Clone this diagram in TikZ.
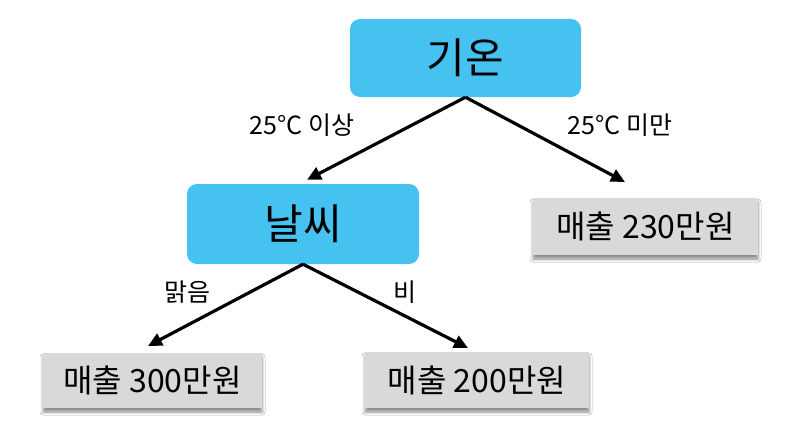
\documentclass[tikz,border=0pt]{standalone}
\usepackage{fontspec}
\setmainfont{Noto Sans CJK KR}
\usepackage{xcolor}
\usetikzlibrary{arrows.meta, calc, shadows.blur}
\definecolor{skyblue}{RGB}{69,194,240}
\definecolor{leafgray}{RGB}{217,217,217}

\begin{document}
\begin{tikzpicture}[x=1pt, y=-1pt,
	    >=Latex,
	    split/.style={fill=skyblue, rounded corners=10pt, inner sep=0pt,
	      font=\fontsize{42}{44}\selectfont},
	    leaf/.style={fill=leafgray, inner sep=0pt,
	      font=\fontsize{32}{34}\selectfont,
	      blur shadow={shadow xshift=0pt, shadow yshift=-4pt,
	        shadow blur radius=3pt, shadow opacity=45}},
	    edge/.style={-{Triangle[length=14pt, width=13pt]}, line width=3.2pt},
	    cond/.style={font=\fontsize{25}{27}\selectfont}
	  ]
	  \useasboundingbox[fill=white] (0,0) rectangle (810,444);

	  % decision nodes
	  \node[split, minimum width=231pt, minimum height=78pt] (temp) at (465.5,58) {기온};
	  \node[split, minimum width=232pt, minimum height=80pt] (wthr) at (303,224) {날씨};

	  % leaves
	  \node[leaf, minimum width=225pt, minimum height=57pt] (s230) at (645.5,226.5) {매출 230만원};
	  \node[leaf, minimum width=219pt, minimum height=55pt] (s300) at (152.5,380.5) {매출 300만원};
	  \node[leaf, minimum width=224pt, minimum height=56pt] (s200) at (477,380) {매출 200만원};

	  % arrow ends
	  \coordinate (t230) at (625,182);
	  \coordinate (t300) at (148,346);
	  \coordinate (t200) at (468,348);

	  % branches
	  \draw[edge] (temp.south) -- ($(wthr.north)+(4,-4)$);
	  \draw[edge] (temp.south) -- (t230);
	  \draw[edge] (wthr.south) -- (t300);
	  \draw[edge] (wthr.south) -- (t200);

	  % conditions
	  \node[cond] (hot)  at (302,125) {25°C 이상};
	  \node[cond] (cold) at (620,125) {25°C 미만};
	  \node[cond] (sun)  at (187,292) {맑음};
	  \node[cond] (rain) at (405,292) {비};
	\end{tikzpicture}
\end{document}
